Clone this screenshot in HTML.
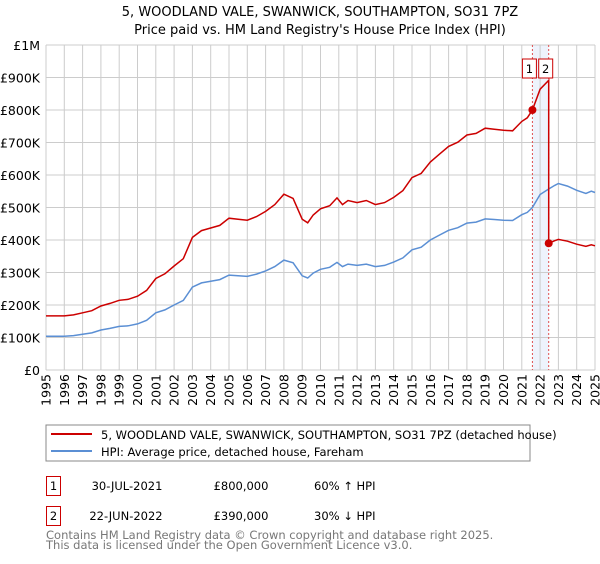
<!DOCTYPE html>
<html><head><meta charset="utf-8">
<style>
body{margin:0;background:#fff;font-family:"DejaVu Sans","Liberation Sans",sans-serif;}
svg text{font-family:"DejaVu Sans","Liberation Sans",sans-serif;}
</style></head>
<body>
<svg id="chart" width="600" height="560" viewBox="0 0 600 560" xmlns="http://www.w3.org/2000/svg">
<text x="320" y="16" text-anchor="middle" font-size="13" fill="#000">5, WOODLAND VALE, SWANWICK, SOUTHAMPTON, SO31 7PZ</text>
<text x="320" y="34" text-anchor="middle" font-size="13" fill="#000">Price paid vs. HM Land Registry's House Price Index (HPI)</text>
<g id="grid"></g>
<g id="plot"></g>
<g id="axes"></g>
<rect x="46" y="425" width="484" height="36" fill="#fff" stroke="#888"/>
<line x1="51" y1="434" x2="92" y2="434" stroke="#cc0000" stroke-width="2"/>
<text x="101" y="439" font-size="11.5">5, WOODLAND VALE, SWANWICK, SOUTHAMPTON, SO31 7PZ (detached house)</text>
<line x1="51" y1="451" x2="92" y2="451" stroke="#5b8fd4" stroke-width="2"/>
<text x="101" y="456" font-size="11.5">HPI: Average price, detached house, Fareham</text>
<rect x="46.5" y="476.5" width="14" height="19" fill="#fff" stroke="#cc0000"/>
<text x="53.5" y="490" text-anchor="middle" font-size="11.5">1</text>
<text x="127" y="490" text-anchor="middle" font-size="11.5">30-JUL-2021</text>
<text x="241" y="490" text-anchor="middle" font-size="11.5">£800,000</text>
<text x="314" y="490" font-size="11.5">60% ↑ HPI</text>
<rect x="46.5" y="506.5" width="14" height="19" fill="#fff" stroke="#cc0000"/>
<text x="53.5" y="520" text-anchor="middle" font-size="11.5">2</text>
<text x="126" y="520" text-anchor="middle" font-size="11.5">22-JUN-2022</text>
<text x="241" y="520" text-anchor="middle" font-size="11.5">£390,000</text>
<text x="314" y="520" font-size="11.5">30% ↓ HPI</text>
<text x="46" y="539" font-size="11.5" fill="#777">Contains HM Land Registry data © Crown copyright and database right 2025.</text>
<text x="46" y="549" font-size="11.5" fill="#777">This data is licensed under the Open Government Licence v3.0.</text>
</svg>
<script>
const hpiYears=[1995,1995.5,1996,1996.5,1997,1997.5,1998,1998.5,1999,1999.5,2000,2000.5,2001,2001.5,2002,2002.5,2003,2003.5,2004,2004.5,2005,2005.5,2006,2006.5,2007,2007.5,2008,2008.5,2009,2009.3,2009.6,2010,2010.5,2010.9,2011.2,2011.5,2012,2012.5,2013,2013.5,2014,2014.5,2015,2015.5,2016,2016.5,2017,2017.5,2018,2018.5,2019,2019.5,2020,2020.5,2021,2021.3,2021.58,2022,2022.47,2022.8,2023,2023.5,2024,2024.5,2024.8,2025];
const hpiValues=[104,104,104,106,110,114,123,128,134,136,142,153,176,185,200,214,255,268,273,278,292,290,288,295,305,318,338,330,290,283,298,310,316,331,318,326,322,326,318,322,332,345,370,378,400,415,430,438,452,455,465,463,461,460,478,485,500,540,557,568,574,566,553,543,550,546];
const saleDates=[2021.58,2022.47];
const salePrices=[800,390];
const yTicks=[0,100,200,300,400,500,600,700,800,900,1000];
const yTickLabels=["£0","£100K","£200K","£300K","£400K","£500K","£600K","£700K","£800K","£900K","£1M"];
const xTicks=[1995,1996,1997,1998,1999,2000,2001,2002,2003,2004,2005,2006,2007,2008,2009,2010,2011,2012,2013,2014,2015,2016,2017,2018,2019,2020,2021,2022,2023,2024,2025];

const NS="http://www.w3.org/2000/svg";
const L=46,R=595,T=45,B=370;
const xs=y=>L+(y-1995)/30*(R-L);
const ys=v=>B-v/1000*(B-T);
function mk(tag,attrs,parent){const e=document.createElementNS(NS,tag);for(const k in attrs)e.setAttribute(k,attrs[k]);parent.appendChild(e);return e;}
const grid=document.getElementById('grid'),plot=document.getElementById('plot'),axes=document.getElementById('axes');
function hpiAt(t){for(let i=0;i<hpiYears.length-1;i++){if(t>=hpiYears[i]&&t<=hpiYears[i+1]){const f=(t-hpiYears[i])/(hpiYears[i+1]-hpiYears[i]);return hpiValues[i]+f*(hpiValues[i+1]-hpiValues[i]);}}return hpiValues[hpiValues.length-1];}

const band=mk('rect',{x:xs(saleDates[0]),y:T,width:xs(saleDates[1])-xs(saleDates[0]),height:B-T,fill:'#eef3fc'},grid);


yTicks.forEach((v,i)=>{
 const g=mk('line',{x1:L,x2:R,y1:ys(v),y2:ys(v),stroke:'#ccc','stroke-width':1},grid);
 
 
 const t=mk('text',{x:L-6,y:ys(v)+5,'text-anchor':'end','font-size':12.5},axes);
 t.textContent=yTickLabels[i];
 
 
});
xTicks.forEach(y=>{
 const g=mk('line',{x1:xs(y),x2:xs(y),y1:T,y2:B,stroke:'#ccc','stroke-width':1},grid);
 
 
 const t=mk('text',{x:0,y:0,'text-anchor':'end','font-size':12.5,transform:`translate(${xs(y)+4.5},${B+4}) rotate(-90)`},axes);
 t.textContent=y;
 
 
});
saleDates.forEach((d,i)=>{
 const l=mk('line',{x1:xs(d),x2:xs(d),y1:T,y2:B,stroke:'#e05050','stroke-width':1,'stroke-dasharray':'2,2'},grid);
 
 
});
const hp=mk('path',{d:hpiYears.map((t,i)=>(i?'L':'M')+xs(t).toFixed(1)+','+ys(hpiValues[i]).toFixed(1)).join(''),fill:'none',stroke:'#5b8fd4','stroke-width':1.5},plot);


let pts=[];
function seg(t0,t1,idx){const ratio=salePrices[idx]/hpiAt(saleDates[idx]);
 const ts=[t0].concat(hpiYears.filter(t=>t>t0&&t<t1)).concat([t1]);
 ts.forEach(t=>pts.push([t,hpiAt(t)*ratio]));}
seg(1995,saleDates[0],0);
seg(saleDates[0],saleDates[1],0);
seg(saleDates[1],2025,1);
const pp=mk('path',{d:pts.map((p,i)=>(i?'L':'M')+xs(p[0]).toFixed(1)+','+ys(p[1]).toFixed(1)).join(''),fill:'none',stroke:'#cc0000','stroke-width':1.5},plot);


saleDates.forEach((d,i)=>{
 const c=mk('circle',{cx:xs(d),cy:ys(salePrices[i]),r:4,fill:'#cc0000'},plot);
 
 
 const bx=xs(d)-10;
 const r=mk('rect',{x:bx,y:59,width:14,height:19,fill:'#fff',stroke:'#cc0000'},plot);
 
 
 const t=mk('text',{x:bx+7,y:73,'text-anchor':'middle','font-size':11.5},plot);
 t.textContent=String(i+1);
 
 
});
</script>
</body></html>
